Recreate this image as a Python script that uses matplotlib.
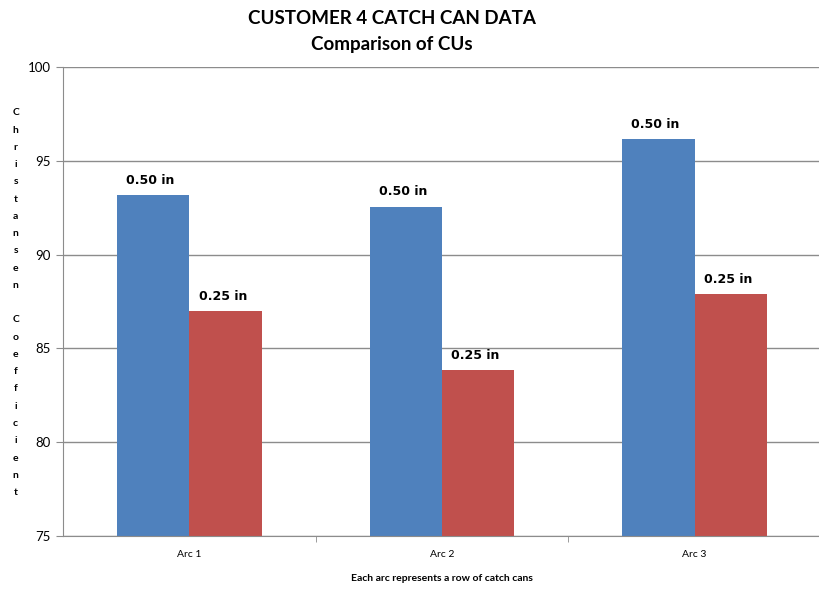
import numpy as np
import matplotlib
matplotlib.use('Agg')
import matplotlib.pyplot as plt

# data
arcs = ['Arc 1', 'Arc 2', 'Arc 3']
cu_050 = [93.15, 92.55, 96.15]
cu_025 = [87.0, 83.85, 87.9]
lab_050 = '0.50 in'
lab_025 = '0.25 in'
ylabel = 'Christansen Coefficient'

blue = '#4F81BD'
red = '#C0504D'
gray = '#8C8C8C'

fig = plt.figure(figsize=(8.2, 5.9), dpi=100)
ax = fig.add_axes([0.077, 0.0915, 0.924, 0.795])

x = np.arange(len(arcs))
w = 1/1.75/2
b1 = ax.bar(x - w/2, cu_050, w, color=blue, zorder=2)
b2 = ax.bar(x + w/2, cu_025, w, color=red, zorder=2)

for bars, lab in ((b1, lab_050), (b2, lab_025)):
    for r in bars:
        ax.annotate(lab, (r.get_x() + r.get_width()/2, r.get_height()),
                    xytext=(-2, 6), textcoords='offset points',
                    ha='center', va='bottom', fontsize=9,
                    fontweight='bold', family='DejaVu Sans')

ax.set_ylim(75, 100)
ax.set_xlim(-0.5, 2.5)
ax.set_yticks(np.arange(75, 101, 5))
ax.yaxis.grid(True, color=gray, linewidth=1, zorder=0)
ax.set_axisbelow(True)

# category ticks between groups, labels centred
ax.set_xticks(x)
ax.set_xticklabels(arcs, fontsize=7.5, family='Lato')
ax.tick_params(axis='x', length=0, pad=10)
ax.set_xticks([0.5, 1.5], minor=True)
ax.tick_params(axis='x', which='minor', length=4, color=gray)
ax.tick_params(axis='y', length=5, color=gray, labelsize=9.5, pad=4)
for t in ax.get_yticklabels():
    t.set_family('Lato')

for s in ('top', 'right'):
    ax.spines[s].set_visible(False)
for s in ('left', 'bottom'):
    ax.spines[s].set_color(gray)

ax.set_xlabel('Each arc represents a row of catch cans', fontsize=7.5,
              fontweight='bold', family='Lato', labelpad=11)

fig.text(0.478, 0.969, 'CUSTOMER 4 CATCH CAN DATA', ha='center', va='center',
         fontsize=13.5, fontweight='bold', family='Lato')
fig.text(0.478, 0.925, 'Comparison of CUs', ha='center', va='center',
         fontsize=13.5, fontweight='bold', family='Lato')

# stacked vertical y label
fig.text(0.019, 0.487, '\n'.join(ylabel), ha='center', va='center',
         fontsize=7.5, fontweight='bold', family='Lato', linespacing=2.18)

fig.savefig('out.png', dpi=100)
